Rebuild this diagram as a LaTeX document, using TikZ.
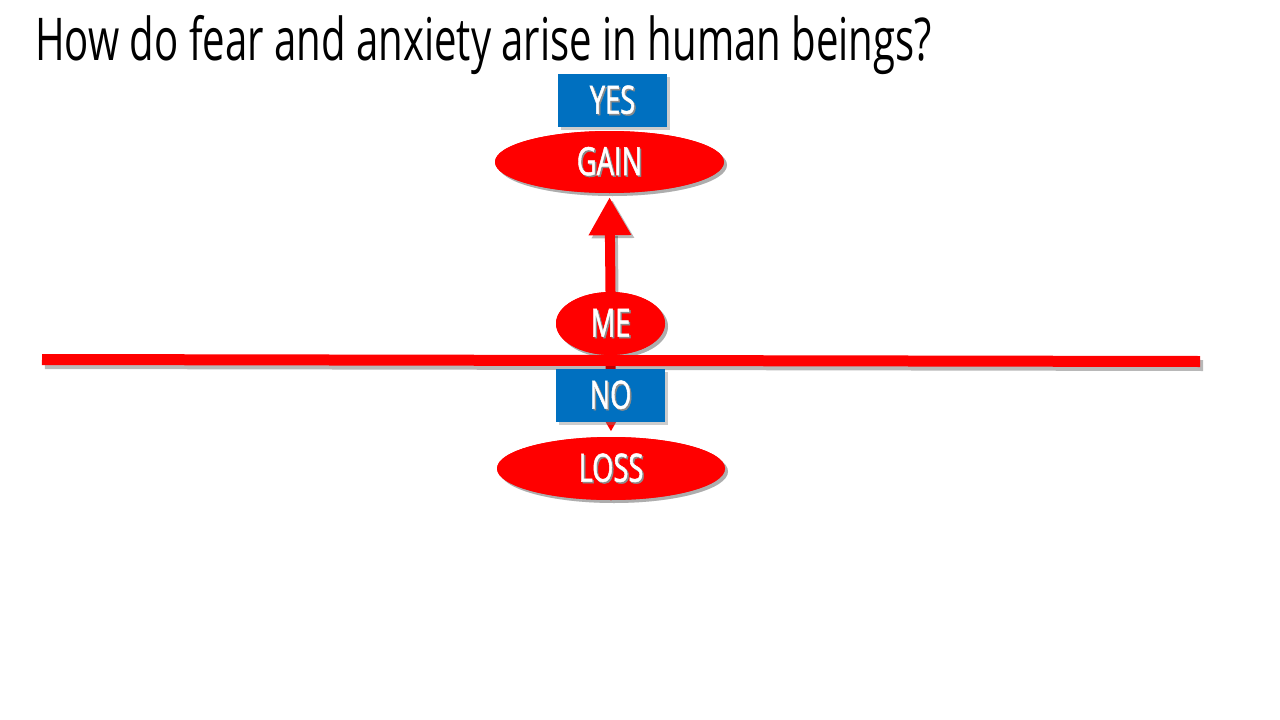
\documentclass[tikz,border=0pt]{standalone}
\usepackage{fontspec}
\setmainfont{Open Sans}[FakeStretch=0.68]
\newfontfamily\lblfont{Open Sans}[FakeStretch=0.70,FakeBold=1.2]
\usetikzlibrary{shapes.geometric,arrows.meta,shadows}
\definecolor{boxblue}{HTML}{0070C0}
\definecolor{shapered}{HTML}{FF0000}
\newcommand\shadowtext[1]{\leavevmode\rlap{\kern1.5pt\raisebox{-1.5pt}{\color{black!45}#1}}#1}
\tikzset{
  shadowed/.style={drop shadow={opacity=0.4,shadow xshift=3pt,shadow yshift=-3pt}},
  shadowline/.style={draw=black,draw opacity=0.28},
  redoval/.style={ellipse,fill=shapered,draw=none,shadowed,text=white,inner sep=0pt,
    font=\lblfont\fontsize{39}{42}\selectfont},
  bluebox/.style={rectangle,fill=boxblue,draw=none,shadowed,text=white,inner sep=0pt,
    minimum width=109pt,minimum height=53pt,font=\lblfont\fontsize{39}{42}\selectfont},
  bigarrow/.style={draw=shapered,line width=10pt,
    -{Triangle[width=40pt,length=38pt]},fill=shapered},
  axisline/.style={draw=shapered,line width=11pt}
}
\begin{document}
\begin{tikzpicture}[x=1pt,y=-1pt]
\useasboundingbox (0,0) rectangle (1280,720);
\fill[white] (0,0) rectangle (1280,720);
\node[anchor=base west,inner sep=0pt,font=\fontsize{59}{64}\selectfont] (title) at (35,60)
  {How do fear and anxiety arise in human beings?};
\node[redoval,minimum width=109pt,minimum height=63pt] (me) at (610.5,323.5) {};
\node[redoval,minimum width=229pt,minimum height=62pt] (gain) at (609.5,162) {};
\node[redoval,minimum width=228pt,minimum height=63pt] (loss) at (611,468.5) {};
\draw[bigarrow,shadowline,line width=10pt,-{Triangle[width=40pt,length=38pt]},shorten >=4pt,fill opacity=0.28,fill=black]
  ([shift={(3pt,-3pt)}]me.north) -- ([shift={(3pt,-3pt)}]gain.south);
\draw[bigarrow,shorten >=4pt] (me.north) -- (gain.south);
\draw[bigarrow,shorten >=5pt] (me.south) -- (loss.north);
\node[redoval,minimum width=109pt,minimum height=63pt] (me2) at (610.5,323.5) {\shadowtext{ME}};
\node[redoval,minimum width=229pt,minimum height=62pt] (gain2) at (609.5,162) {\shadowtext{GAIN}};
\node[redoval,minimum width=228pt,minimum height=63pt] (loss2) at (611,468.5) {\shadowtext{LOSS}};
\coordinate (L) at (42,359.5);
\coordinate (R) at (1200,361.5);
\draw[shadowline,line width=11pt] ([shift={(3pt,-4pt)}]L) -- ([shift={(3pt,-4pt)}]R);
\draw[axisline] (L) -- (R);
\node[bluebox] (yes) at (612.5,100.5) {\shadowtext{YES}};
\node[bluebox] (no) at (610.5,395.5) {\shadowtext{NO}};
\end{tikzpicture}
\end{document}
